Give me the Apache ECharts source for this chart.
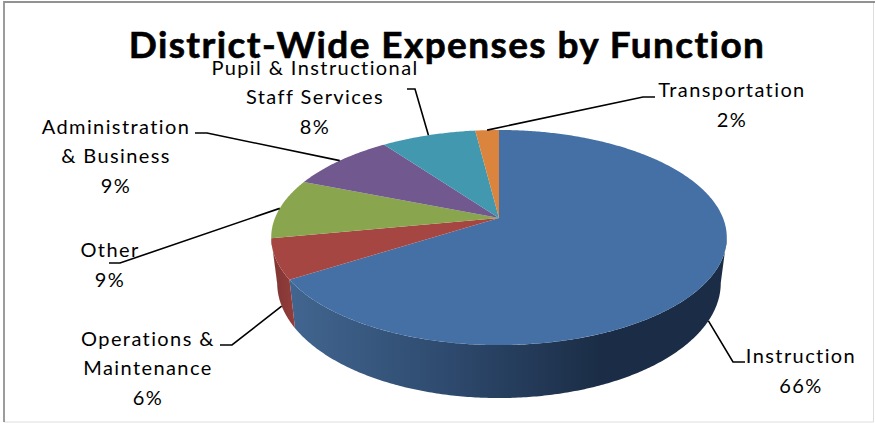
<!DOCTYPE html>
<html>
<head>
<meta charset="utf-8">
<style>
  html, body { margin: 0; padding: 0; background: #fff; }
  #chart { width: 875px; height: 423px; }
  /* Slightly open tracking on all chart text. */
  #chart text { letter-spacing: 1.4px; }
</style>
<script src="https://cdn.jsdelivr.net/npm/echarts@6/dist/echarts.min.js"></script>
</head>
<body>
<div id="chart"></div>
<script>
// Share of district-wide expenses, clockwise from twelve o'clock.
const categories = ['Instruction', 'Operations &\nMaintenance', 'Other', 'Administration\n& Business', 'Pupil & Instructional\nStaff Services', 'Transportation'];
const shares = [66, 6, 9, 9, 8, 2];
const titleText = 'District-Wide Expenses by Function';

const sliceColors = ['#4470A6', '#A64643', '#89A54E', '#71588F', '#4198AF', '#DB843D'];

// Label anchors and leader elbows, in page pixels.
const labelCenters = [[801, 370], [148, 367], [110, 264], [116, 155], [315, 96], [732, 104]];
const leaderStarts = [[745, 362], [220, 345], [109, 263], [195, 133], [407, 89], [655, 97]];
const leaderElbows = [[733, 362], [232, 345], [120, 263], [207, 133], [415, 89], [643, 97]];
const leaderOnRim = [true, true, false, false, false, false];

// Tilted disc: a circle seen through a perspective projection.
const APEX = [499, 218];
const SCALE_X = 224, SCALE_Y = 104, PERSPECTIVE = 0.1814;
// The lower rim is the upper ellipse moved down and slightly reshaped.
const TOP_CENTER = [498, 237.5], RIM_CENTER = [498, 283];
const RIM_SCALE_X = 222 / 228, RIM_SCALE_Y = 115 / 107.5;

const total = shares.reduce((a, b) => a + b, 0);
const toAngle = (share) => share / total * Math.PI * 2;
const starts = [];
shares.reduce((acc, v, i) => { starts[i] = acc; return acc + v; }, 0);

function onDisc(phi) {
  const d = 1 + PERSPECTIVE * Math.cos(phi);
  return [APEX[0] + SCALE_X * Math.sin(phi) / d, APEX[1] - SCALE_Y * Math.cos(phi) / d];
}
function onRim(phi) {
  const p = onDisc(phi);
  return [RIM_CENTER[0] + (p[0] - TOP_CENTER[0]) * RIM_SCALE_X,
          RIM_CENTER[1] + (p[1] - TOP_CENTER[1]) * RIM_SCALE_Y];
}
function sweep(fn, a, b) {
  const pts = [];
  const n = Math.max(2, Math.ceil((b - a) / 0.01));
  for (let i = 0; i <= n; i++) pts.push(fn(a + (b - a) * i / n));
  return pts;
}

// The wall is only visible between the two side extremes of the ellipse.
const WALL_FROM = Math.acos(-PERSPECTIVE);
const WALL_TO = Math.PI * 2 - WALL_FROM;

const wallFills = [
  { type: 'linear', x: 294, y: 0, x2: 600, y2: 0, global: true, colorStops: [
    { offset: 0, color: '#41658F' }, { offset: 0.5, color: '#2E4A6E' }, { offset: 1, color: '#1B2D46' }] },
  { type: 'linear', x: 272, y: 0, x2: 294, y2: 0, global: true, colorStops: [
    { offset: 0, color: '#7F3533' }, { offset: 1, color: '#933D3B' }] }
];

function renderWall(params, api) {
  const i = params.dataIndex;
  const a = Math.max(toAngle(starts[i]), WALL_FROM);
  const b = Math.min(toAngle(starts[i] + api.value(0)), WALL_TO);
  if (b <= a) return { type: 'group', children: [] };
  const points = sweep(onDisc, a, b).concat(sweep(onRim, a, b).reverse());
  return { type: 'polygon', shape: { points }, style: { fill: wallFills[i] || sliceColors[i] } };
}

function renderFace(params, api) {
  const i = params.dataIndex;
  const a = toAngle(starts[i]);
  const b = toAngle(starts[i] + api.value(0));
  const points = [APEX].concat(sweep(onDisc, a, b));
  return { type: 'polygon', shape: { points }, style: { fill: sliceColors[i] } };
}

function renderCallout(params, api) {
  const i = params.dataIndex;
  const value = api.value(0);
  const mid = toAngle(starts[i] + value / 2);
  const end = leaderOnRim[i] ? onRim(mid) : onDisc(mid);
  const text = categories[i] + '\n' + value + '%';
  return {
    type: 'group',
    children: [
      { type: 'polyline', shape: { points: [leaderStarts[i], leaderElbows[i], end] },
        style: { stroke: '#000', lineWidth: 1.6, fill: 'none' } },
      { type: 'text', x: labelCenters[i][0], y: labelCenters[i][1],
        style: { text, fill: '#000', font: '20px Lato', align: 'center', verticalAlign: 'middle', lineHeight: 29.5 } }
    ]
  };
}

const seriesData = shares.map((v, i) => ({ name: categories[i], value: [v] }));

const chart = echarts.init(document.getElementById('chart'), null, { renderer: 'svg' });
chart.setOption({
  animation: false,
  backgroundColor: '#fff',
  title: {
    text: titleText, left: 442, top: 20, textAlign: 'center',
    textStyle: { fontFamily: 'Lato', fontWeight: 'bold', fontSize: 37, color: '#000',
      textBorderColor: '#000', textBorderWidth: 0.6 }
  },
  graphic: [
    { type: 'polyline', silent: true, z: -1, shape: { points: [[873.5, 2], [873.5, 422], [4, 422]] },
      style: { fill: 'none', stroke: '#DDDDDD', lineWidth: 1 } },
    { type: 'polyline', silent: true, z: -1, shape: { points: [[4, 422], [4, 2], [875, 2]] },
      style: { fill: 'none', stroke: '#929292', lineWidth: 1.8 } }
  ],
  series: [
    { type: 'custom', coordinateSystem: 'none', silent: true, z: 2, renderItem: renderWall, data: seriesData },
    { type: 'custom', coordinateSystem: 'none', silent: true, z: 3, renderItem: renderFace, data: seriesData },
    { type: 'custom', coordinateSystem: 'none', silent: true, z: 4, renderItem: renderCallout, data: seriesData }
  ]
});
</script>
</body>
</html>
